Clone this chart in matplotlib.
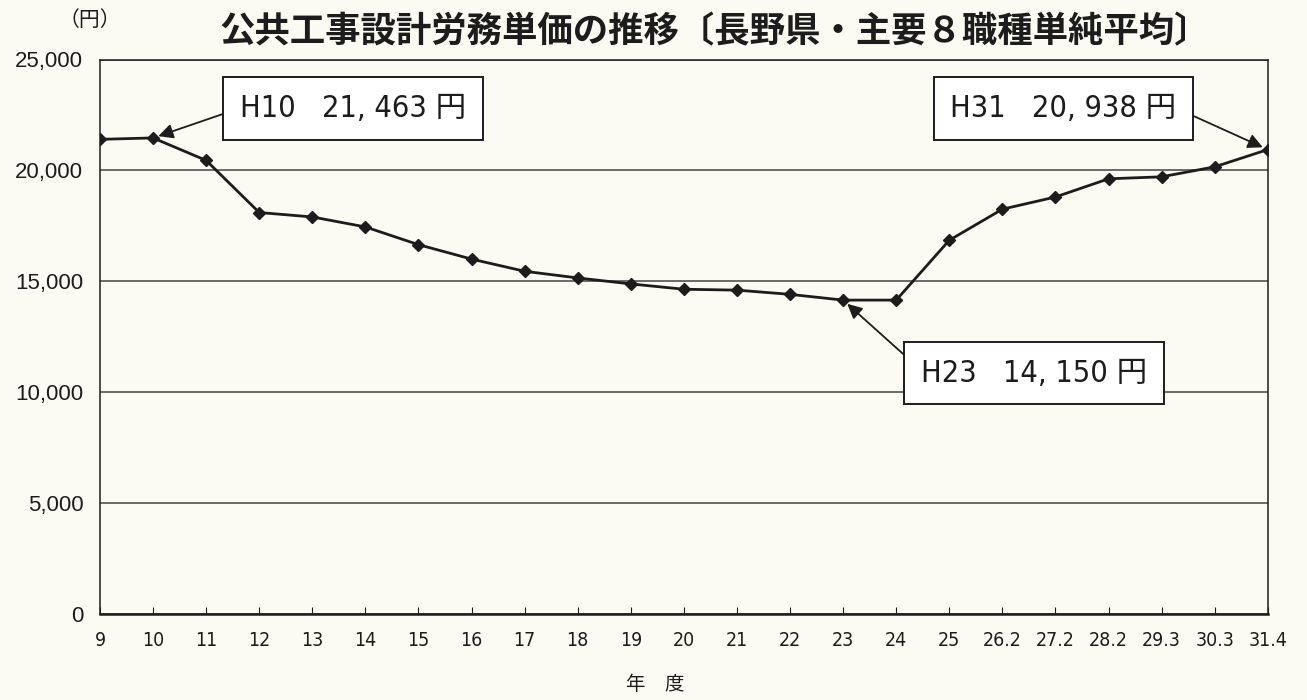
import matplotlib.pyplot as plt

years = ['9', '10', '11', '12', '13', '14', '15', '16', '17', '18', '19', '20',
         '21', '22', '23', '24', '25', '26.2', '27.2', '28.2', '29.3', '30.3', '31.4']
wage = [21400, 21463, 20450, 18100, 17900, 17450, 16650, 16000, 15450, 15150,
        14880, 14640, 14600, 14410, 14150, 14150, 16850, 18250, 18800, 19620,
        19710, 20160, 20938]
yticks = [0, 5000, 10000, 15000, 20000, 25000]

plt.rcParams['font.family'] = ['Noto Sans CJK JP', 'DejaVu Sans']
narrow = ['DejaVu Sans', 'Noto Sans CJK JP']
ink = '#1c1c1c'
bg = '#fbfbf4'

fig = plt.figure(figsize=(13.07, 7), dpi=100, facecolor=bg)
ax = fig.add_axes([0.0765, 0.123, 0.8935, 0.792], facecolor=bg)

x = list(range(len(years)))
ax.plot(x, wage, color=ink, lw=2, marker='D', markersize=6.5, zorder=3)

ax.set_xlim(0, len(years) - 1)
ax.set_ylim(0, 25000)
ax.set_yticks(yticks)
ax.set_yticklabels([f'{v:,}' for v in yticks], family='Liberation Sans', fontsize=16, color=ink)
ax.set_xticks(x)
ax.set_xticklabels(years, family=narrow, fontstretch='condensed', fontsize=14, color=ink)
ax.tick_params(axis='y', length=0, pad=12)
ax.tick_params(axis='x', direction='in', length=5, color=ink, pad=12)
ax.yaxis.grid(True, color='#444444', lw=1.1)
ax.set_axisbelow(True)
for s in ax.spines.values():
    s.set_color(ink)
    s.set_linewidth(1.1)
ax.spines['bottom'].set_linewidth(1.8)

box = dict(boxstyle='square,pad=0.55', fc='white', ec=ink, lw=1.4)
notes = [('H10   21, 463 円', 1, (4.76, 22800), (0, 0.5)),
         ('H31   20, 938 円', 22, (18.15, 22800), (1, 0.5)),
         ('H23   14, 150 円', 14, (17.6, 10860), (0, 0.6))]
for label, i, pos, rel in notes:
    ax.annotate(label, xy=(i, wage[i]), xytext=pos, ha='center', va='center',
                fontsize=22, family=narrow, fontstretch='condensed', color=ink,
                bbox=box,
                arrowprops=dict(arrowstyle='-|>', color=ink, lw=1.3,
                                mutation_scale=22, shrinkA=0, shrinkB=4, relpos=rel))

fig.text(0.547, 0.955, '公共工事設計労務単価の推移〔長野県・主要８職種単純平均〕',
         ha='center', va='center', fontsize=25.5, fontweight='bold', color=ink)
fig.text(0.069, 0.972, '（円）', ha='center', va='center', fontsize=15, color=ink)
fig.text(0.501, 0.022, '年　度', ha='center', va='center', fontsize=14, color=ink)

fig.savefig('out.png', dpi=100, facecolor=bg)
